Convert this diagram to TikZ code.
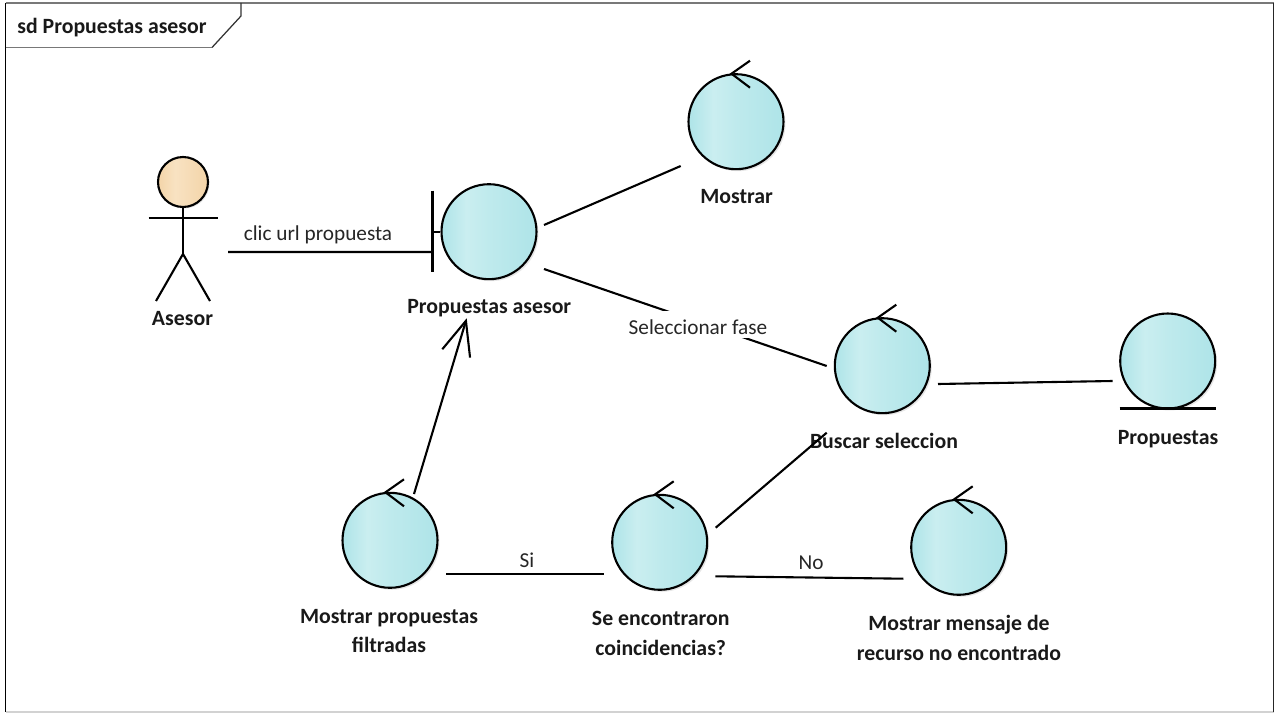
\documentclass[tikz,border=0pt]{standalone}
\usepackage{fontspec}
\setmainfont{Carlito}
\usetikzlibrary{
  shadows,
  arrows.meta,
  calc
}
\definecolor{robustedge}{RGB}{174,228,232}
\definecolor{robustlight}{RGB}{202,238,240}
\definecolor{actoredge}{RGB}{243,212,168}
\definecolor{actorlight}{RGB}{248,226,194}
\definecolor{framegray}{RGB}{120,120,120}
\definecolor{framelight}{RGB}{210,210,210}
\pgfdeclarehorizontalshading{robustfill}{100bp}{
  color(0bp)=(robustedge); color(25bp)=(robustedge); color(38bp)=(robustlight);
  color(50bp)=(robustlight!60!robustedge); color(75bp)=(robustedge); color(100bp)=(robustedge)}
\pgfdeclarehorizontalshading{actorfill}{100bp}{
  color(0bp)=(actoredge); color(25bp)=(actoredge); color(42bp)=(actorlight);
  color(75bp)=(actoredge); color(100bp)=(actoredge)}
\begin{document}
\begin{tikzpicture}[
      x=0.02cm,
      y=-0.02cm,
      pen/.style={line width=0.042cm,black},
      robust/.style={
        circle,
        draw=black,
        line width=0.042cm,
        shading=robustfill,
        minimum size=1.9cm,
        inner sep=0pt,
        drop shadow={opacity=0.2,shadow xshift=0.04cm,shadow yshift=-0.04cm}
      },
      head/.style={
        circle,
        draw=black,
        line width=0.042cm,
        shading=actorfill,
        minimum size=1cm,
        inner sep=0pt,
        drop shadow={opacity=0.2,shadow xshift=0.03cm,shadow yshift=-0.03cm}
      },
      objname/.style={
        font=\fontsize{12.4}{16.7}\selectfont\bfseries,
        align=center,
        text=black!90,
        inner sep=0pt
      },
      linklabel/.style={
        font=\fontsize{12.1}{14}\selectfont,
        text=black!85,
        inner sep=0pt
      }
    ]
    \useasboundingbox (0,0) rectangle (1279,713);

    % Frame
    \coordinate (frameNW) at (5.5,3);
    \coordinate (frameNE) at (1273.5,3);
    \coordinate (frameSW) at (5.5,712);
    \coordinate (frameSE) at (1273.5,712);
    \draw[framegray,line width=0.03cm] (frameNW) -- (frameNE);
    \draw[framelight,line width=0.03cm] (frameSW) -- (frameSE);
    \draw[black,line width=0.03cm] (frameNW) -- (frameSW);
    \draw[black!85,line width=0.03cm] (frameNE) -- (frameSE);
    \draw[framegray,line width=0.025cm] (5.5,47.5) -- (212,47.5);
    \draw[black!80,line width=0.025cm] (212,47.5) -- (241,16) -- (241,3);
    \node[objname] (frametitle) at (112,28) {sd Propuestas asesor};

    % Actor
    \node[head] (asesor) at (183,182) {};
    \draw[pen] (asesor.south) -- ($(asesor.center)+(0,72)$) coordinate (hip);
    \draw[pen] ($(asesor.center)+(-34.5,36)$) -- ($(asesor.center)+(34.5,36)$);
    \draw[pen] ($(hip)+(-27,47)$) -- (hip) -- ($(hip)+(27,47)$);
    \node[objname] (asesorname) at (182.5,319) {Asesor};

    % Boundary
    \node[robust] (propasesor) at (489,231.7) {};
    \draw[pen] ($(propasesor.center)+(-56.5,-41)$) -- ($(propasesor.center)+(-56.5,40.5)$);
    \draw[pen] ($(propasesor.center)+(-56.5,0)$) -- (propasesor.west);
    \node[objname] (propasesorname) at (489.3,308) {Propuestas asesor};

    % Controls
    \node[robust] (mostrar) at (736,121.7) {};
    \draw[pen] ($(mostrar.center)+(14,-61)$) -- ($(mostrar.center)+(-4.5,-48)$) -- ($(mostrar.center)+(14,-34)$);
    \node[objname] (mostrarname) at (736.7,197) {Mostrar};

    \node[robust] (buscar) at (882.3,365.7) {};
    \draw[pen] ($(buscar.center)+(14,-61)$) -- ($(buscar.center)+(-4.5,-48)$) -- ($(buscar.center)+(14,-34)$);
    \node[objname] (buscarname) at (884,441) {Buscar seleccion};

    \node[robust] (filtradas) at (390,540.3) {};
    \draw[pen] ($(filtradas.center)+(14,-61)$) -- ($(filtradas.center)+(-4.5,-48)$) -- ($(filtradas.center)+(14,-34)$);
    \node[objname] (filtradasname) at (389,631) {Mostrar propuestas\\filtradas};

    \node[robust] (coincide) at (659.7,542.3) {};
    \draw[pen] ($(coincide.center)+(14,-61)$) -- ($(coincide.center)+(-4.5,-48)$) -- ($(coincide.center)+(14,-34)$);
    \node[objname] (coincidename) at (660.7,633.5) {Se encontraron\\coincidencias?};

    \node[robust] (mensaje) at (958.7,547.3) {};
    \draw[pen] ($(mensaje.center)+(14,-61)$) -- ($(mensaje.center)+(-4.5,-48)$) -- ($(mensaje.center)+(14,-34)$);
    \node[objname] (mensajename) at (959,638) {Mostrar mensaje de\\recurso no encontrado};

    % Entity
    \node[robust] (propuestas) at (1167.7,361) {};
    \draw[pen] ($(propuestas.center)+(-48,47.5)$) -- ($(propuestas.center)+(48,47.5)$);
    \node[objname] (propuestasname) at (1168,439) {Propuestas};

    % Links
    \draw[pen] ($(asesor.center)+(45,70)$) -- ($(propasesor.center)+(-56.5,20.3)$);
    \node[linklabel] (clicurl) at (318,235) {clic url propuesta};

    \draw[pen] ($(propasesor.center)+(55,-6.7)$) -- ($(mostrar.center)+(-55.3,44.3)$);

    \draw[pen] ($(propasesor.center)+(55,37.3)$) -- ($(buscar.center)+(-55.6,0.3)$);
    \node[linklabel,fill=white,minimum height=0.54cm,minimum width=2.86cm] (selfase) at (698,324.5) {\raisebox{-0.21cm}[0.1cm][0.1cm]{Seleccionar fase}};

    \draw[pen] ($(buscar.center)+(55.7,18.3)$) -- ($(propuestas.center)+(-55,20)$);

    \draw[pen,-{Straight Barb[length=0.68cm,width=0.58cm]}] ($(filtradas.center)+(24,-46.3)$) -- ($(propasesor.center)+(-22.3,86.6)$);

    \draw[pen] ($(filtradas.center)+(56,33.7)$) -- ($(coincide.center)+(-55.7,31.7)$);
    \node[linklabel] (si) at (527,560) {Si};

    \draw[pen] ($(coincide.center)+(56,-14.6)$) -- ($(buscar.center)+(-55.6,67)$);

    \draw[pen] ($(coincide.center)+(55.6,34)$) -- ($(mensaje.center)+(-55.4,31.4)$);
    \node[linklabel] (no) at (811,563) {No};

    \end{tikzpicture}
\end{document}
